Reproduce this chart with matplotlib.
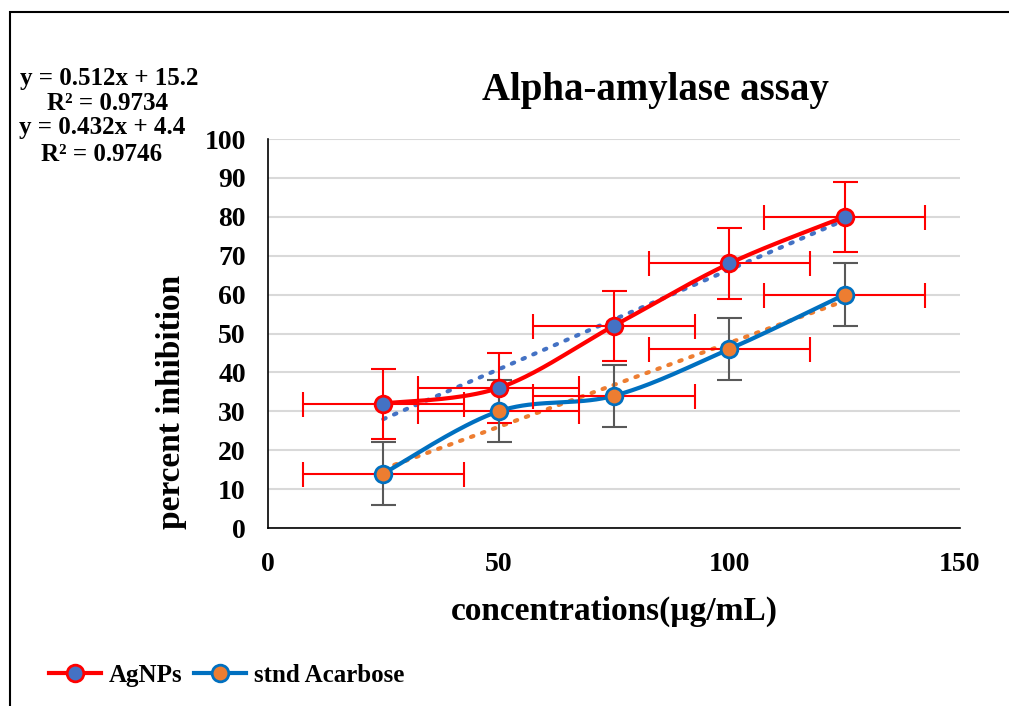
import numpy as np
import matplotlib
matplotlib.use("Agg")
import matplotlib.pyplot as plt
from matplotlib.patches import Rectangle
from matplotlib.lines import Line2D

plt.rcParams['font.family'] = ['Liberation Serif', 'DejaVu Serif']
plt.rcParams['font.weight'] = 'bold'

conc = [25, 50, 75, 100, 125]
agnps = [32, 36, 52, 68, 80]
acarbose = [14, 30, 34, 46, 60]
agnps_yerr = [9, 9, 9, 9, 9]
acarbose_yerr = [8, 8, 8, 8, 8]
xerr = [17.5, 17.5, 17.5, 17.5, 17.5]
fit_agnps = (0.512, 15.2, 0.9734)
fit_acarbose = (0.432, 4.4, 0.9746)

RED = '#FF0000'
BLUE = '#0070C0'
MBLUE = '#4472C4'
ORANGE = '#ED7D31'
GREY = '#595959'


def smooth(x, y, n=40):
    # catmull-rom, like excel's smoothed line
    p = np.column_stack([x, y]).astype(float)
    p = np.vstack([p[0], p, p[-1]])
    out = []
    for i in range(1, len(p) - 2):
        p0, p1, p2, p3 = p[i - 1], p[i], p[i + 1], p[i + 2]
        t = np.linspace(0, 1, n)[:, None]
        seg = 0.5 * ((2 * p1) + (-p0 + p2) * t
                     + (2 * p0 - 5 * p1 + 4 * p2 - p3) * t ** 2
                     + (-p0 + 3 * p1 - 3 * p2 + p3) * t ** 3)
        out.append(seg)
    out = np.vstack(out)
    return out[:, 0], out[:, 1]


fig = plt.figure(figsize=(10.09, 7.06), dpi=100)
ax = fig.add_axes([0.2656, 0.2521, 0.6858, 0.551])

# trendlines
xt = np.array([conc[0], conc[-1]])
ax.plot(xt, fit_agnps[0] * xt + fit_agnps[1], linestyle=(0, (0.6, 2.2)),
        color=MBLUE, lw=3, dash_capstyle='round', zorder=3)
ax.plot(xt, fit_acarbose[0] * xt + fit_acarbose[1], linestyle=(0, (0.6, 2.2)),
        color=ORANGE, lw=3, dash_capstyle='round', zorder=3)

# smoothed lines
sx, sy = smooth(conc, agnps)
ax.plot(sx, sy, color=RED, lw=3, zorder=4)
sx, sy = smooth(conc, acarbose)
ax.plot(sx, sy, color=BLUE, lw=3, zorder=4)

# error bars
ax.errorbar(conc, agnps, yerr=agnps_yerr, xerr=xerr, fmt='none', ecolor=RED,
            elinewidth=1.5, capsize=9, capthick=1.5, zorder=5)
ax.errorbar(conc, acarbose, yerr=acarbose_yerr, fmt='none', ecolor=GREY,
            elinewidth=1.5, capsize=9, capthick=1.5, zorder=5)
ax.errorbar(conc, acarbose, xerr=xerr, fmt='none', ecolor=RED,
            elinewidth=1.5, capsize=9, capthick=1.5, zorder=5)

# markers
ax.plot(conc, agnps, 'o', ms=12, mfc=MBLUE, mec=RED, mew=2, zorder=6)
ax.plot(conc, acarbose, 'o', ms=12, mfc=ORANGE, mec=BLUE, mew=2, zorder=6)

ax.set_xlim(0, 150)
ax.set_ylim(0, 100)
ax.set_xticks([0, 50, 100, 150])
ax.set_yticks(range(0, 101, 10))
ax.tick_params(length=0, labelsize=20)
ax.tick_params(axis='x', pad=17)
ax.tick_params(axis='y', pad=16)
for lab in ax.get_xticklabels() + ax.get_yticklabels():
    lab.set_fontweight('bold')
ax.grid(axis='y', color='#D9D9D9', lw=1.5)
ax.set_axisbelow(True)
for s in ['top', 'right']:
    ax.spines[s].set_visible(False)
ax.spines['left'].set_color('black')
ax.spines['bottom'].set_color('black')
ax.spines['left'].set_linewidth(1.2)
ax.spines['bottom'].set_linewidth(1.2)

ax.set_xlabel('concentrations(µg/mL)', fontsize=24, fontweight='bold', labelpad=14)
ax.set_ylabel('percent inhibition', fontsize=24, fontweight='bold')
ax.yaxis.set_label_coords(-0.117, 0.324)
fig.text(0.65, 0.872, 'Alpha-amylase assay', fontsize=28, fontweight='bold',
         ha='center', va='center')

# equations
fig.text(0.108, 0.8895, 'y = %.3fx + %.1f' % fit_agnps[:2], fontsize=18,
         fontweight='bold', ha='center', va='center')
fig.text(0.107, 0.854, 'R² = %.4f' % fit_agnps[2], fontsize=18,
         fontweight='bold', ha='center', va='center')
fig.text(0.101, 0.8187, 'y = %.3fx + %.1f' % fit_acarbose[:2], fontsize=18,
         fontweight='bold', ha='center', va='center')
fig.text(0.101, 0.7805, 'R² = %.4f' % fit_acarbose[2], fontsize=18,
         fontweight='bold', ha='center', va='center')

handles = [
    Line2D([], [], color=RED, lw=3, marker='o', ms=12, mfc=MBLUE, mec=RED, mew=2),
    Line2D([], [], color=BLUE, lw=3, marker='o', ms=12, mfc=ORANGE, mec=BLUE, mew=2),
]
fig.legend(handles, ['AgNPs', 'stnd Acarbose'], loc='center left',
           bbox_to_anchor=(0.026, 0.043), ncol=2, frameon=False,
           prop={'size': 18, 'weight': 'bold'}, handlelength=2.1,
           handletextpad=0.3, columnspacing=0.45)

# outer border
fig.patches.append(Rectangle((0.0099, -0.2), 1.5, 0.983 + 0.2, fill=False,
                             ec='black', lw=1.5, transform=fig.transFigure))

fig.savefig('out.png', dpi=100)
